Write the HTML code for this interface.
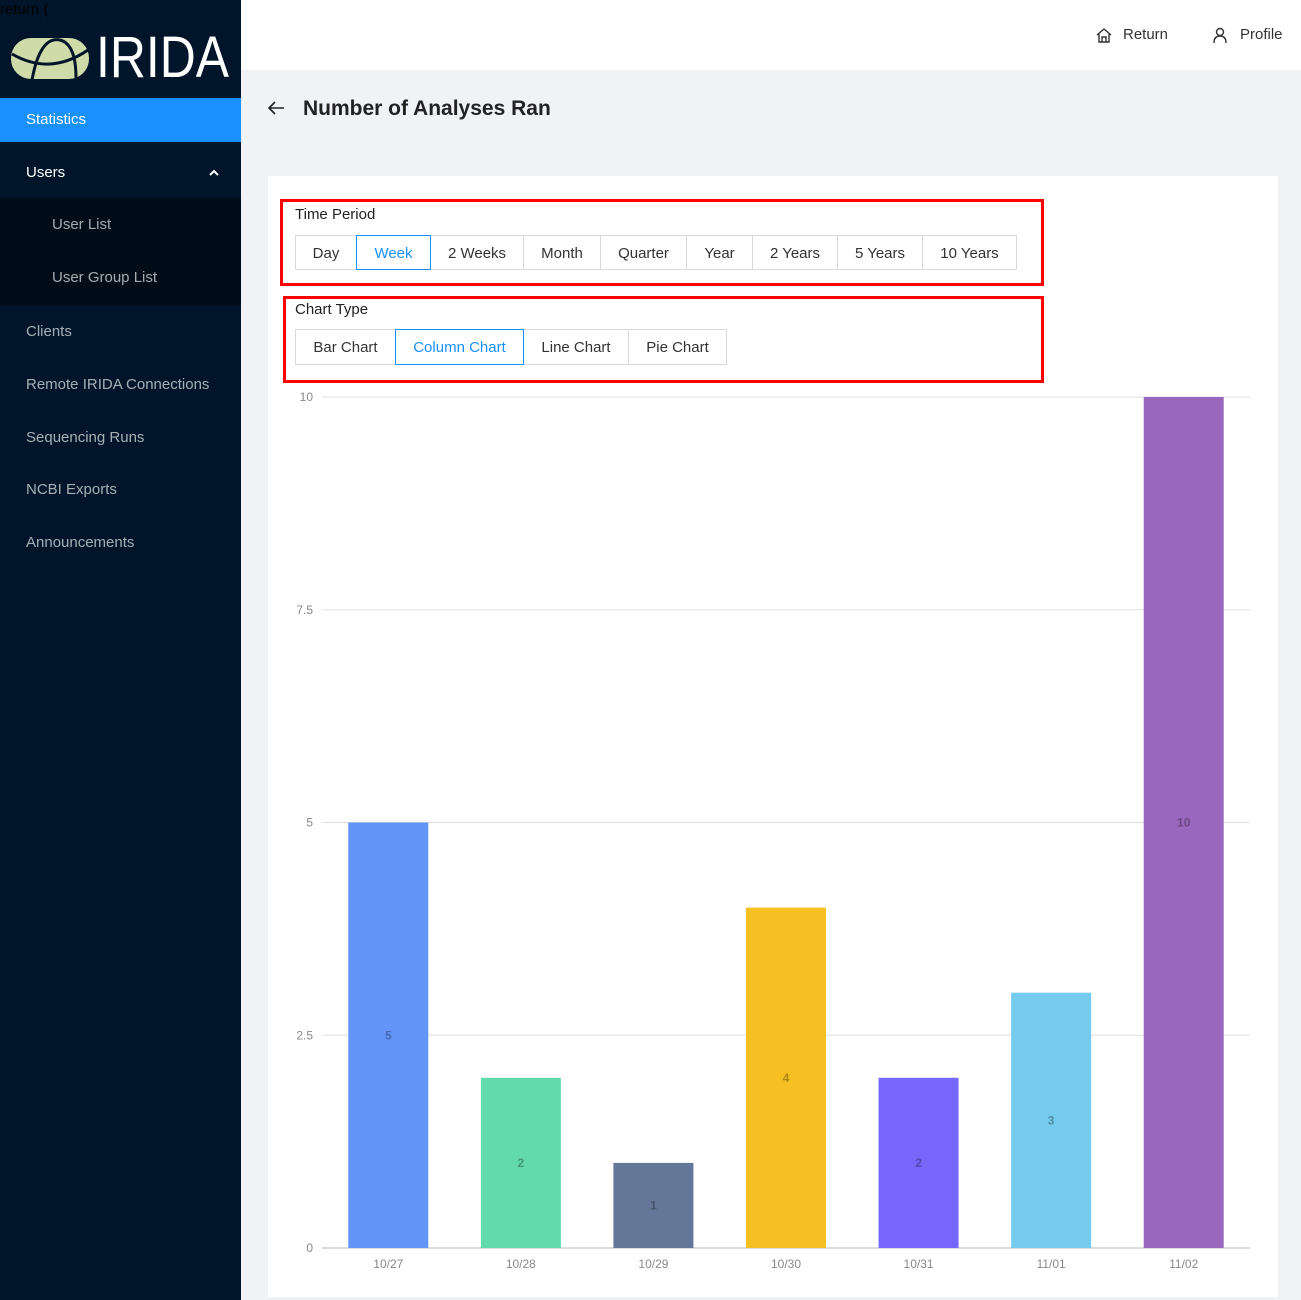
<!DOCTYPE html>
<html><head><meta charset="utf-8">
<style>
*{box-sizing:border-box;margin:0;padding:0}
body{width:1301px;height:1300px;overflow:hidden;font-family:"Liberation Sans",sans-serif;background:#f0f2f5;position:relative}
.sb{position:absolute;left:0;top:0;width:241px;height:1300px;background:#001529}
.nav{position:absolute;left:0;width:241px;color:rgba(255,255,255,0.65);font-size:15px;padding-left:26px}
.hdr{position:absolute;left:241px;top:0;width:1060px;height:70px;background:#fff}
.card{position:absolute;left:268px;top:176px;width:1010px;height:1121px;background:#fff}
.red{position:absolute;border:3px solid #f00}
.lbl{position:absolute;font-size:15px;color:#222}
.grp{position:absolute;display:flex;height:35px}
.btn{border:1px solid #d9d9d9;margin-left:-1px;text-align:center;line-height:35px;font-size:15px;color:#333;background:#fff}
.btn.on{border-color:#1890ff;color:#1890ff;position:relative;z-index:1}
</style></head><body>
<div class="sb">
  <div style="position:absolute;left:0;top:2px;font-size:15px;color:#000;line-height:15px">return (</div>
  <svg style="position:absolute;left:10px;top:36px" width="80" height="45">
    <rect x="1" y="2" width="78" height="41" rx="20" fill="#d0dbaa"/>
    <path d="M2 18 Q40 40 78 14" stroke="#001529" stroke-width="3" fill="none"/>
    <path d="M22 44 Q30 0 50 4 Q66 8 66 42" stroke="#001529" stroke-width="3" fill="none"/>
  </svg>
  <div style="position:absolute;left:96px;top:28px;font-size:58px;color:#fff;line-height:60px;transform:scaleX(0.86);transform-origin:left">IRIDA</div>
  <div class="nav" style="top:98px;height:44px;line-height:44px;background:#1890ff;color:#fff">Statistics</div>
  <div class="nav" style="top:146px;height:53px;line-height:53px;color:#fff">Users<svg style="position:absolute;right:22px;top:23px" width="10" height="7"><path d="M1 6 L5 2 L9 6" stroke="#fff" stroke-width="2" fill="none"/></svg></div>
  <div style="position:absolute;left:0;top:198px;width:241px;height:107px;background:#000c17"></div>
  <div class="nav" style="top:198px;height:53px;line-height:53px;padding-left:52px">User List</div>
  <div class="nav" style="top:251px;height:53px;line-height:53px;padding-left:52px">User Group List</div>
  <div class="nav" style="top:305px;line-height:53px">Clients</div>
  <div class="nav" style="top:358px;line-height:53px">Remote IRIDA Connections</div>
  <div class="nav" style="top:411px;line-height:53px">Sequencing Runs</div>
  <div class="nav" style="top:463px;line-height:53px">NCBI Exports</div>
  <div class="nav" style="top:516px;line-height:53px">Announcements</div>
</div>
<div class="hdr">
  <div style="position:absolute;left:854px;top:26px;font-size:15px;color:#333;display:flex;align-items:center;gap:10px">
    <svg width="18" height="16"><path d="M2 8 L9 2 L16 8 M4 7 V15 H14 V7 M7 15 V10 H11 V15" stroke="#333" stroke-width="1.4" fill="none"/></svg>Return</div>
  <div style="position:absolute;left:971px;top:26px;font-size:15px;color:#333;display:flex;align-items:center;gap:12px">
    <svg width="16" height="16"><circle cx="8" cy="5" r="3.5" stroke="#333" stroke-width="1.4" fill="none"/><path d="M2 16 Q2 9 8 9 Q14 9 14 16" stroke="#333" stroke-width="1.4" fill="none"/></svg>Profile</div>
</div>
<svg style="position:absolute;left:267px;top:100px" width="18" height="16"><path d="M2 8 H17 M8 2 L2 8 L8 14" stroke="#222" stroke-width="1.6" fill="none"/></svg>
<div style="position:absolute;left:303px;top:97px;font-size:21px;font-weight:bold;color:#222">Number of Analyses Ran</div>
<div class="card"></div>
<div class="red" style="left:280px;top:199px;width:764px;height:87px"></div>
<div class="lbl" style="left:295px;top:206px">Time Period</div>
<div class="grp" style="left:296px;top:235px">
  <div class="btn" style="width:62px">Day</div>
  <div class="btn on" style="width:75px">Week</div>
  <div class="btn" style="width:94px">2 Weeks</div>
  <div class="btn" style="width:78px">Month</div>
  <div class="btn" style="width:87px">Quarter</div>
  <div class="btn" style="width:67px">Year</div>
  <div class="btn" style="width:86px">2 Years</div>
  <div class="btn" style="width:86px">5 Years</div>
  <div class="btn" style="width:95px">10 Years</div>
</div>
<div class="red" style="left:283px;top:296px;width:761px;height:87px"></div>
<div class="lbl" style="left:295px;top:301px">Chart Type</div>
<div class="grp" style="left:296px;top:329px;height:36px">
  <div class="btn" style="width:101px;line-height:36px">Bar Chart</div>
  <div class="btn on" style="width:129px;line-height:36px">Column Chart</div>
  <div class="btn" style="width:106px;line-height:36px">Line Chart</div>
  <div class="btn" style="width:99px;line-height:36px">Pie Chart</div>
</div>
<svg id="chart" style="position:absolute;left:0;top:0" width="1301" height="1300"></svg>
<script>
const categories=["10/27","10/28","10/29","10/30","10/31","11/01","11/02"];
const values=[5,2,1,4,2,3,10];
const colors=["#6395f9","#62daab","#657798","#f6c022","#7666f9","#74cbed","#9967bd"];
const ticks=[0,2.5,5,7.5,10];
const NS="http://www.w3.org/2000/svg";
const svg=document.getElementById('chart');
const X0=322,X1=1250,Y0=1248,Y1=397,YMAX=10;
const band=(X1-X0)/categories.length;
const y=v=>Y0-(v/YMAX)*(Y0-Y1);
const xc=i=>X0+band*(i+0.5);
function mk(t,a,txt){const e=document.createElementNS(NS,t);for(const k in a)e.setAttribute(k,a[k]);if(txt!=null)e.textContent=txt;svg.appendChild(e);return e;}
ticks.forEach(t=>{
  const l=mk('line',{x1:X0,x2:X1,y1:y(t),y2:y(t),stroke:t===0?'#bbb':'#e0e0e0','stroke-width':1});
  
  
  const tx=mk('text',{x:313,y:y(t)+4,'text-anchor':'end','font-size':12,fill:'#888','font-family':'Liberation Sans'},String(t));
  
  
});
values.forEach((v,i)=>{
  const w=80;
  const r=mk('rect',{x:xc(i)-w/2,y:y(v),width:w,height:Y0-y(v),fill:colors[i]});
  
  
  const t=mk('text',{x:xc(i),y:(y(v)+Y0)/2+4,'text-anchor':'middle','font-size':12,'font-weight':'bold',fill:'rgba(0,0,0,0.3)','font-family':'Liberation Sans'},String(v));
  
  
  const c=mk('text',{x:xc(i),y:1268,'text-anchor':'middle','font-size':12,fill:'#888','font-family':'Liberation Sans'},categories[i]);
  
  
});
</script>
</body></html>
